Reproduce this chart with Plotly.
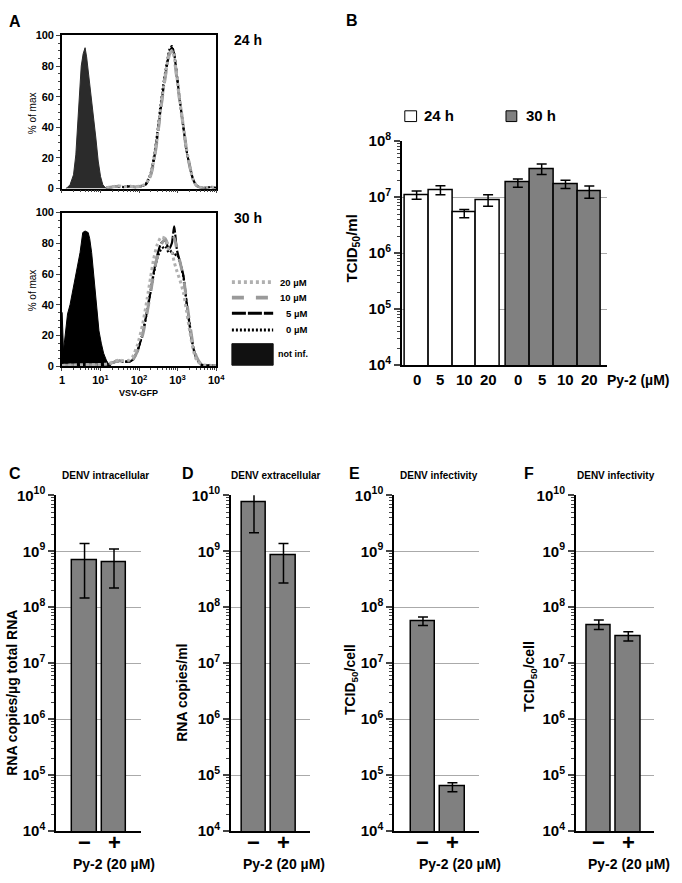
import plotly.graph_objects as go

W, H = 682, 883
FONT = "Liberation Sans, Arial, sans-serif"

# ---------------- Panel A data (log10 of VSV-GFP intensity, % of max) ----------------
a24_ninf_logx = [0.10, 0.13, 0.21, 0.30, 0.36, 0.40, 0.45, 0.50, 0.55, 0.60, 0.64, 0.70, 0.77, 0.83, 0.88, 0.94, 1.00, 1.06, 1.13, 1.19, 1.25]
a24_ninf_y = [0, 0.5, 2.5, 9, 22, 39, 56, 80, 88, 92, 86, 73, 60, 46, 33, 18, 8, 2.5, 0.5, 0, 0]

a24_inf_logx = [1.15, 1.3, 1.45, 1.6, 1.75, 1.9, 2.05, 2.17, 2.30, 2.38, 2.47, 2.55, 2.64, 2.72, 2.79, 2.85, 2.91, 2.98, 3.06, 3.15, 3.23, 3.32, 3.40, 3.49, 3.62, 3.75, 3.87, 4.0]
a24_0uM = [0.5, 1, 1.5, 1, 1.5, 1, 1.5, 3, 10, 20, 36, 53, 70, 82, 91, 93, 88, 74, 57, 40, 25, 14, 6, 2, 0.5, 0.5, 1, 0.5]
a24_5uM = [0.5, 1, 1.5, 1, 1.5, 1, 1.5, 2.5, 9, 18, 33, 50, 67, 80, 89, 92, 88, 74, 57, 40, 25, 14, 6, 2, 0.5, 0.5, 1, 0.5]
a24_10uM = [0.5, 1, 1.5, 1, 1.5, 1, 1.5, 2.5, 8.5, 17, 32, 49, 66, 79, 88, 90, 85, 72, 56, 40, 25, 14, 6, 2, 0.5, 0.5, 1, 0.5]
a24_20uM = [0.5, 1.2, 1.8, 1.2, 1.5, 1.2, 1.8, 3, 9, 18, 33, 50, 67, 80, 88, 90, 86, 73, 57, 41, 26, 14, 6, 2, 0.5, 0.5, 1, 0.5]

a30_ninf_logx = [0.0, 0.005, 0.04, 0.085, 0.145, 0.21, 0.30, 0.38, 0.47, 0.54, 0.60, 0.68, 0.72, 0.77, 0.83, 0.89, 0.96, 1.02, 1.08, 1.15, 1.22, 1.28]
a30_ninf_y = [35, 35, 10, 19, 34, 40, 51, 61, 74, 87, 88, 87, 83, 74, 57, 38, 23, 15, 8.5, 4, 1, 0]

a30_inf_logx = [0, 0.3, 0.6, 0.9, 1.2, 1.4, 1.5, 1.6, 1.75, 1.83, 1.96, 2.09, 2.21, 2.30, 2.38, 2.47, 2.57, 2.68, 2.77, 2.85, 2.91, 2.98, 3.06, 3.15, 3.23, 3.32, 3.40, 3.49, 3.62, 3.87, 4.0]
a30_0uM = [0.5, 0.8, 1, 1, 1.5, 3, 3.5, 3, 3, 4, 10, 21, 36, 49, 60, 70, 76, 78, 74, 75, 72, 73, 67, 58, 42, 26, 13, 5, 1, 0.5, 0.5]
a30_5uM = [0.5, 0.8, 1, 1, 1.5, 3, 3.5, 3, 3, 4, 10, 21, 36, 49, 61, 72, 80, 82, 76, 80, 91, 76, 68, 59, 42, 25, 12.7, 5, 1, 0.5, 0.5]
a30_10uM = [0.5, 0.8, 1, 1, 1.5, 3, 3.5, 3, 3, 4, 10, 20, 35, 48, 60, 71, 79, 83, 78, 80, 84, 76, 68, 58, 43, 27, 14, 6, 1, 0.5, 0.5]
a30_20uM = [0.5, 0.8, 1, 1, 1.5, 3.5, 4, 3.5, 4, 6, 14, 27, 44, 58, 70, 79, 84, 83, 76, 74, 68, 62, 56, 48, 36, 22, 11, 4, 1, 0.5, 0.5]

a_tick_labels = ["1", "10<sup>1</sup>", "10<sup>2</sup>", "10<sup>3</sup>", "10<sup>4</sup>"]
legend_labels = ["20 µM", "10 µM", "5 µM", "0 µM", "not inf."]

# ---------------- Panel B data ----------------
b_doses = ["0", "5", "10", "20"]
b_24h = [1.08e7, 1.34e7, 5.3e6, 8.7e6]
b_24h_hi = [1.29e7, 1.6e7, 6.0e6, 1.1e7]
b_24h_lo = [9.2e6, 1.1e7, 4.3e6, 6.9e6]
b_30h = [1.83e7, 3.1e7, 1.7e7, 1.29e7]
b_30h_hi = [2.1e7, 3.9e7, 2.0e7, 1.58e7]
b_30h_lo = [1.5e7, 2.55e7, 1.43e7, 9.6e6]

# ---------------- Panels C-F data ----------------
cf_categories = ["−", "+"]
c_vals = [6.9e8, 6.3e8]
c_hi = [1.38e9, 1.1e9]
c_lo = [1.46e8, 2.2e8]
d_vals = [7.45e9, 8.5e8]
d_hi = [1.34e10, 1.38e9]
d_lo = [2.15e9, 2.7e8]
e_vals = [5.7e7, 6.2e4]
e_hi = [6.7e7, 7.3e4]
e_lo = [4.7e7, 5.0e4]
f_vals = [4.8e7, 3.05e7]
f_hi = [5.9e7, 3.65e7]
f_lo = [4.0e7, 2.5e7]

# ---------------- helpers ----------------
def px(x):
    return x / W

def py(y):
    return 1 - y / H

fig = go.Figure()

def line_trace(logx, y, ax, color, dash, width):
    return go.Scatter(x=[10 ** v for v in logx], y=y, mode="lines",
                      line=dict(color=color, dash=dash, width=width, shape="spline", smoothing=0.6),
                      xaxis="x" + ax, yaxis="y" + ax, showlegend=False, hoverinfo="skip")

styles = {
    "20": ("#b0b0b0", "3px,3px", 3),
    "10": ("#9a9a9a", "12px,12px", 3),
    "5": ("#000000", "14px,2px", 2.2),
    "0": ("#000000", "2px,2px", 2.2),
}
draw_order = ["0", "5", "10", "20"]

# Panel A top (24 h)
fig.add_trace(go.Scatter(x=[10 ** v for v in a24_ninf_logx], y=a24_ninf_y, mode="lines",
                         fill="tozeroy", fillcolor="#2b2b2b", line=dict(color="#2b2b2b", width=1),
                         xaxis="x", yaxis="y", showlegend=False, hoverinfo="skip"))
a24_series = {"20": a24_20uM, "10": a24_10uM, "5": a24_5uM, "0": a24_0uM}
for key in draw_order:
    c, d, w = styles[key]
    fig.add_trace(line_trace(a24_inf_logx, a24_series[key], "", c, d, w))

# Panel A bottom (30 h)
fig.add_trace(go.Scatter(x=[10 ** v for v in a30_ninf_logx], y=a30_ninf_y, mode="lines",
                         fill="tozeroy", fillcolor="#000000", line=dict(color="#000000", width=1),
                         xaxis="x2", yaxis="y2", showlegend=False, hoverinfo="skip"))
a30_series = {"20": a30_20uM, "10": a30_10uM, "5": a30_5uM, "0": a30_0uM}
for key in draw_order:
    c, d, w = styles[key]
    fig.add_trace(line_trace(a30_inf_logx, a30_series[key], "2", c, d, w))

# Panel B bars
def err(vals, hi, lo):
    return dict(type="data", symmetric=False,
                array=[h - v for h, v in zip(hi, vals)],
                arrayminus=[v - l for l, v in zip(lo, vals)],
                color="black", thickness=1.5, width=5)

group_gap = 4.25
b_x24 = [i for i in range(len(b_doses))]
b_x30 = [i + group_gap for i in range(len(b_doses))]
fig.add_trace(go.Bar(x=b_x24, y=b_24h, width=1, marker=dict(color="white", line=dict(color="black", width=1.5)),
                     error_y=err(b_24h, b_24h_hi, b_24h_lo), xaxis="x3", yaxis="y3", showlegend=False))
fig.add_trace(go.Bar(x=b_x30, y=b_30h, width=1, marker=dict(color="#808080", line=dict(color="black", width=1.5)),
                     error_y=err(b_30h, b_30h_hi, b_30h_lo), xaxis="x3", yaxis="y3", showlegend=False))

# Panels C-F bars
cf_x = list(range(len(cf_categories)))
for ax, vals, hi, lo in [("4", c_vals, c_hi, c_lo), ("5", d_vals, d_hi, d_lo),
                         ("6", e_vals, e_hi, e_lo), ("7", f_vals, f_hi, f_lo)]:
    fig.add_trace(go.Bar(x=cf_x, y=vals, width=0.83,
                         marker=dict(color="#808080", line=dict(color="black", width=1.5)),
                         error_y=err(vals, hi, lo), xaxis="x" + ax, yaxis="y" + ax, showlegend=False))

# ---------------- axes ----------------
tickfont_big = dict(family=FONT, size=15, color="black", weight="bold")
tickfont_a = dict(family=FONT, size=11, color="black", weight="bold")

def a_axes(xl, xr, yt, yb, labels):
    xa = dict(domain=[px(xl), px(xr)], type="log", range=[0, 4], showline=True, linecolor="black",
              linewidth=1.5, mirror=True, ticks="outside", ticklen=3, tickwidth=1.2,
              tickvals=[1, 10, 100, 1000, 10000], ticktext=a_tick_labels, showticklabels=labels,
              minor=dict(ticks="outside", ticklen=2, tickwidth=1, dtick="D1", showgrid=False),
              showgrid=False, zeroline=False, tickfont=tickfont_a, fixedrange=True)
    ya = dict(domain=[py(yb), py(yt)], range=[0, 100], showline=True, linecolor="black", linewidth=1.5,
              mirror=True, ticks="outside", ticklen=4, tickwidth=1.2, dtick=20,
              minor=dict(ticks="outside", ticklen=2, tickwidth=1, dtick=5, showgrid=False),
              showgrid=False, zeroline=False, tickfont=tickfont_a, fixedrange=True)
    return xa, ya

xa1, ya1 = a_axes(60, 217, 25, 181.5, False)
xa2, ya2 = a_axes(60, 217, 206, 363, True)
xa1["anchor"] = "y"; ya1["anchor"] = "x"
xa2["anchor"] = "y2"; ya2["anchor"] = "x2"

def log_y(yt, yb, lo, hi, xanchor):
    vals = [10 ** k for k in range(lo, hi + 1)]
    text = ["10<sup>%d</sup>" % k for k in range(lo, hi + 1)]
    return dict(domain=[py(yb), py(yt)], type="log", range=[lo, hi], anchor=xanchor,
                showline=True, linecolor="black", linewidth=1.5, ticks="outside", ticklen=6, tickwidth=1.5,
                tickvals=vals, ticktext=text, tickfont=tickfont_big,
                minor=dict(ticks="outside", ticklen=3, tickwidth=1, dtick="D1", showgrid=False),
                showgrid=True, gridcolor="#aaaaaa", gridwidth=1, zeroline=False, fixedrange=True)

def bar_x(xl, xr, rng, yanchor):
    return dict(domain=[px(xl), px(xr)], range=rng, anchor=yanchor, showline=True, linecolor="black",
                linewidth=1.5, ticks="", showticklabels=False,
                showgrid=False, zeroline=False, fixedrange=True)

xa3 = bar_x(406, 615, [-0.62, 8.0], "y3")
ya3 = log_y(133, 362, 4, 8, "x3")

cf_specs = [("4", 54, 140, [-0.967, 1.9]), ("5", 232, 312, [-0.783, 1.883]),
            ("6", 398, 485, [-0.983, 1.917]), ("7", 583, 663, [-0.783, 1.883])]
layout_axes = dict(xaxis=xa1, yaxis=ya1, xaxis2=xa2, yaxis2=ya2, xaxis3=xa3, yaxis3=ya3)
for ax, xl, xr, rng in cf_specs:
    layout_axes["xaxis" + ax] = bar_x(xl, xr, rng, "y" + ax)
    layout_axes["yaxis" + ax] = log_y(495, 838, 4, 10, "x" + ax)

# ---------------- annotations ----------------
ann = []

def text(x, y, s, size, xanchor="center", yanchor="middle", angle=0, weight="bold", xref="paper"):
    ann.append(dict(x=px(x) if xref == "paper" else x, y=py(y), xref=xref, yref="paper", text=s,
                    showarrow=False, xanchor=xanchor, yanchor=yanchor, textangle=angle,
                    font=dict(family=FONT, size=size, color="black", weight=weight)))

# category labels under the bars (placed at bar positions via data x-ref)
for xv, lab in zip(b_x24 + b_x30, b_doses + b_doses):
    text(xv, 377, lab, 15, xref="x3")
for ax, _, _, _ in cf_specs:
    for xv, lab in zip(cf_x, cf_categories):
        text(xv, 850, lab, 22, xref="x" + ax)

# panel letters
for letter, x, y in [("A", 4, 11), ("B", 347, 10), ("C", 4, 473), ("D", 180, 473), ("E", 350, 473), ("F", 528, 473)]:
    text(x, y, letter, 16, xanchor="left")

# panel A labels
text(233, 30, "24 h", 14, xanchor="left")
text(233, 212, "30 h", 14, xanchor="left")
text(30, 104, "% of max", 10, angle=-90, weight="normal")
text(30, 285, "% of max", 10, angle=-90, weight="normal")
text(138, 390, "VSV-GFP", 9)

# panel A legend
shapes = []
leg_y = [277, 293, 309, 326]
for (key, lab, yy) in zip(["20", "10", "5", "0"], legend_labels[:4], leg_y):
    c, d, w = styles[key]
    shapes.append(dict(type="line", xref="paper", yref="paper", x0=px(233), x1=px(275), y0=py(yy), y1=py(yy),
                       line=dict(color=c, dash=d, width=w + 0.8)))
    text(311, yy, lab, 9.5, xanchor="right")
shapes.append(dict(type="rect", xref="paper", yref="paper", x0=px(233), x1=px(275), y0=py(362), y1=py(340),
                   fillcolor="#111111", line=dict(color="#111111", width=1)))
text(278, 351, legend_labels[4], 9, xanchor="left")

# panel B legend and titles
shapes.append(dict(type="rect", xref="paper", yref="paper", x0=px(409), x1=px(421), y0=py(113), y1=py(102),
                   fillcolor="white", line=dict(color="black", width=1)))
shapes.append(dict(type="rect", xref="paper", yref="paper", x0=px(512), x1=px(523), y0=py(113), y1=py(102),
                   fillcolor="#808080", line=dict(color="black", width=1)))
text(427, 107, "24 h", 15, xanchor="left")
text(530, 107, "30 h", 15, xanchor="left")
text(356, 243, "TCID<sub>50</sub>/ml", 15, angle=-90)
text(681, 377, "Py-2 (µM)", 14, xanchor="right")

# panels C-F titles
text(104, 475, "DENV intracellular", 10)
text(278, 475, "DENV extracellular", 10)
text(444, 475, "DENV infectivity", 10)
text(624, 475, "DENV infectivity", 10)
text(9, 697, "RNA copies/µg total RNA", 14, angle=-90)
text(182, 697, "RNA copies/ml", 14, angle=-90)
text(355, 683, "TCID<sub>50</sub>/cell", 14, angle=-90)
text(537, 680, "TCID<sub>50</sub>/cell", 14, angle=-90)
for xc in [113, 286, 465, 637]:
    text(xc, 872, "Py-2 (20 µM)", 14)

fig.update_layout(width=W, height=H, margin=dict(l=0, r=0, t=0, b=0),
                  paper_bgcolor="white", plot_bgcolor="white", bargap=0,
                  font=dict(family=FONT, color="black"),
                  annotations=ann, shapes=shapes, **layout_axes)

post = ("document.documentElement.style.margin='0px';document.body.style.margin='0px';"
        "document.body.style.overflow='hidden';document.documentElement.style.overflow='hidden';"
        "var d=document.getElementById('{plot_id}');d.style.position='fixed';"
        "d.style.top='0px';d.style.left='0px';")
fig.write_html("out.html", config={"displayModeBar": False}, post_script=post)
